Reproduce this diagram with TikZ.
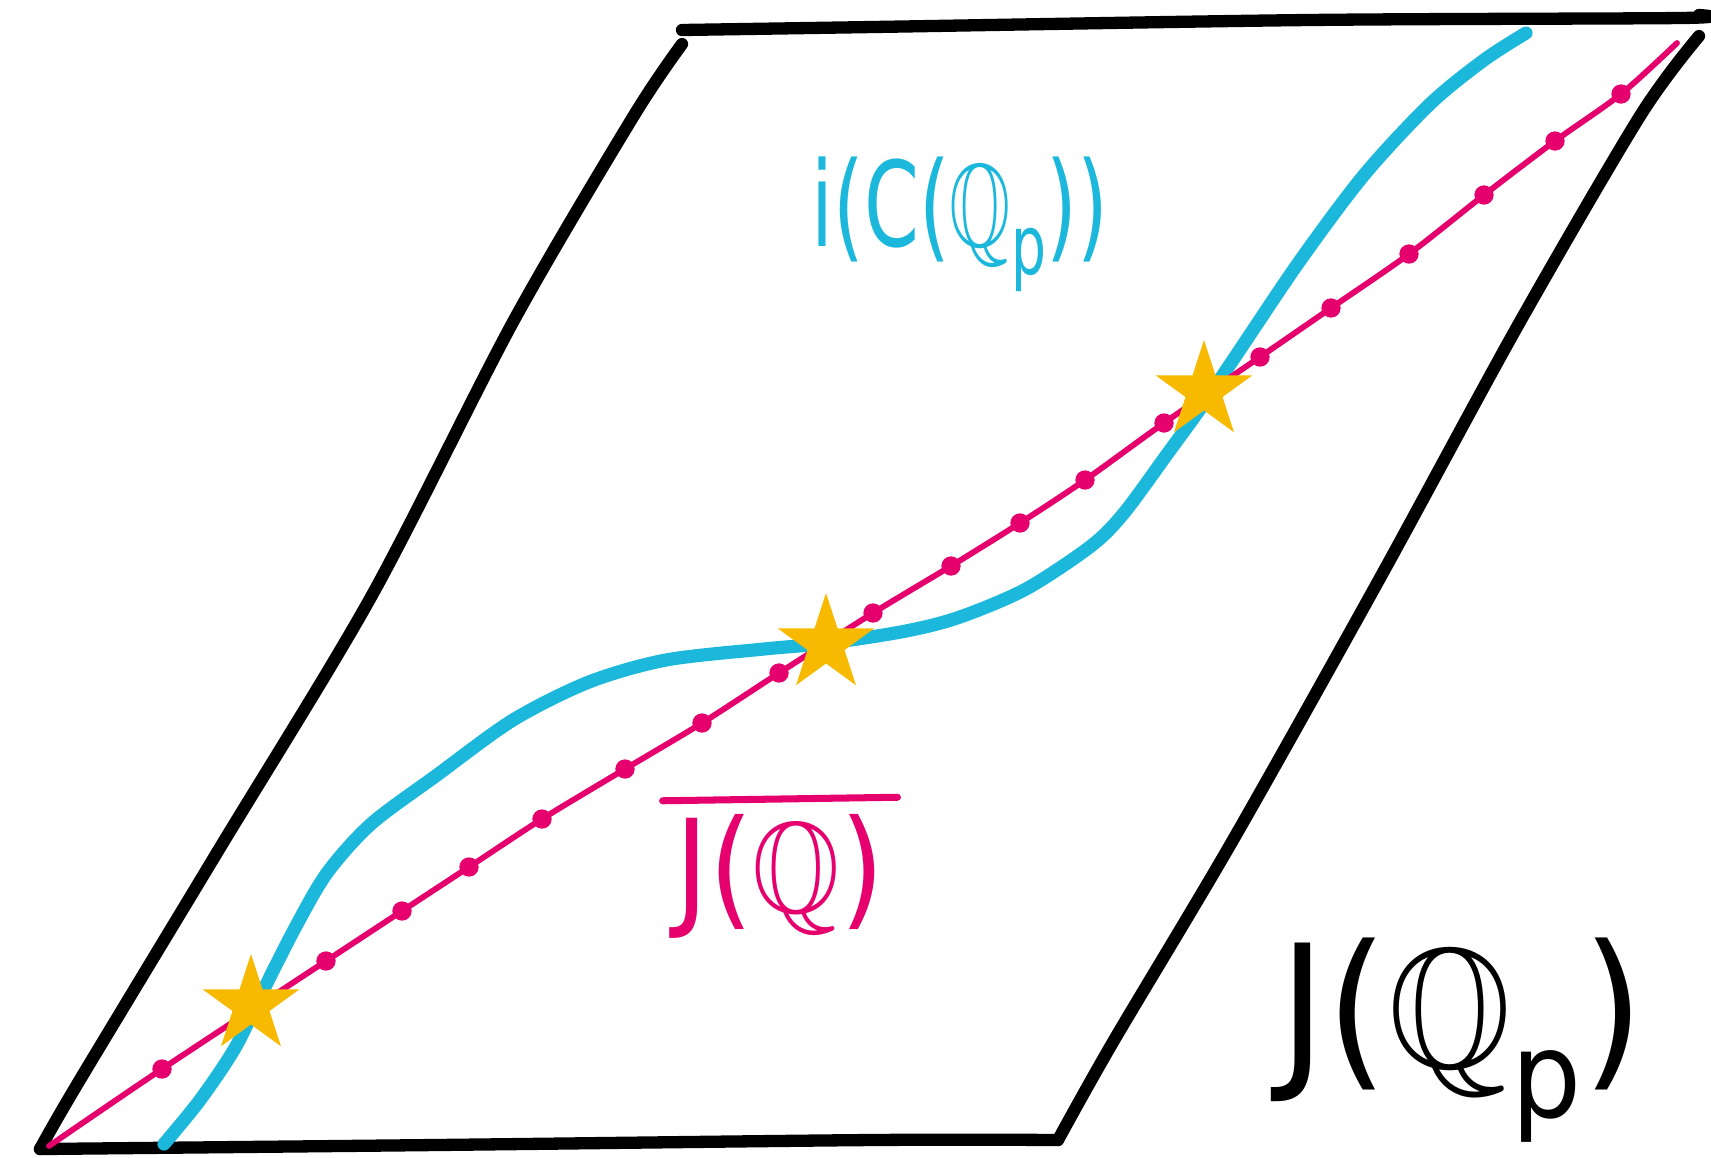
\documentclass[tikz,border=0pt]{standalone}
\usepackage{fontspec}
\usepackage{graphicx}
\usepackage{amssymb}
\setmainfont{DejaVu Sans}
\DeclareFontFamily{U}{msb}{}
\DeclareFontShape{U}{msb}{m}{n}{<-> msbm10}{}
\usetikzlibrary{shapes.geometric}
\definecolor{jcyan}{RGB}{27,184,220}
\definecolor{jmagenta}{RGB}{229,0,110}
\definecolor{jstar}{RGB}{247,186,0}
\begin{document}
\begin{tikzpicture}[x=0.02cm,y=-0.02cm,line cap=round,line join=round]
            %
            % `border' is used for the black parallelogram.
            % `curve' is used for the cyan curve.
            % `jline' is used for the magenta line, `point' for its dots.
            % `starpt' is used for the yellow stars.
            \tikzstyle{border} = [draw=black,line width=7pt]
            \tikzstyle{curve} = [draw=jcyan,line width=7.5pt]
            \tikzstyle{jline} = [draw=jmagenta,line width=3.3pt]
            \tikzstyle{point} = [fill=jmagenta,shape=circle,minimum size=11pt,inner sep=0pt]
            \tikzstyle{starpt} = [fill=jstar,shape=star,star points=5,star point ratio=2.618,minimum size=2.04cm,inner sep=0pt]
            \useasboundingbox (0,0) rectangle (1711,1157);
            %
            % Corners
            \coordinate (bl) at (40,1149);
            \coordinate (tl) at (682,30);
            \coordinate (tr) at (1699,15);
            \coordinate (br) at (1058,1140);
            %
            % Parallelogram
            \draw[border] plot[smooth] coordinates {(bl) (78,1083) (218,851) (371,597) (513,322) (633,117) ([yshift=-8]tl)};
            \draw[border] plot[smooth] coordinates {(tl) (873,27) (1309,20) (1680,18) (tr)};
            \draw[border] plot[smooth] coordinates {([yshift=-12]tr) (1640,116) (1517,327)
                (1380,578) (1233,840) (1113,1042) (br)};
            \draw[border] plot[smooth] coordinates {(bl) (436,1145) (873,1140) (br)};
            %
            % Cyan curve
            \coordinate (cs) at (164,1144);
            \coordinate (ce) at (1526,33);
            \draw[curve] plot[smooth] coordinates {(cs) (200,1100) (235,1048) (262,993) (295,928) (327,873)
                (371,824) (437,775) (513,720) (589,682) (666,660) (764,649) (829,643) (906,631)
                (960,617) (1026,589) (1091,546) (1124,513) (1168,453) (1200,409) (1233,360)
                (1299,262) (1364,175) (1430,104) (1484,60) (ce)};
            %
            % Magenta line and its dots
            \coordinate (ms) at (49,1146);
            \coordinate (me) at (1677,43);
            \node[point] (p1) at (162,1069) {};
            \node[point] (p2) at (326,961) {};
            \node[point] (p3) at (402,911) {};
            \node[point] (p4) at (469,867) {};
            \node[point] (p5) at (542,819) {};
            \node[point] (p6) at (625,769) {};
            \node[point] (p7) at (702,723) {};
            \node[point] (p8) at (779,673) {};
            \node[point] (p9) at (873,613) {};
            \node[point] (p10) at (951,566) {};
            \node[point] (p11) at (1020,523) {};
            \node[point] (p12) at (1085,480) {};
            \node[point] (p13) at (1164,423) {};
            \node[point] (p14) at (1260,357) {};
            \node[point] (p15) at (1331,308) {};
            \node[point] (p16) at (1409,254) {};
            \node[point] (p17) at (1484,195) {};
            \node[point] (p18) at (1555,141) {};
            \node[point] (p19) at (1621,94) {};
            \draw[jline] plot[smooth] coordinates {(ms) (p1.center) (p2.center) (p3.center) (p4.center)
                (p5.center) (p6.center) (p7.center) (p8.center) (p9.center) (p10.center) (p11.center)
                (p12.center) (p13.center) (p14.center) (p15.center) (p16.center) (p17.center)
                (p18.center) (p19.center) (me)};
            %
            % Stars
            \node[starpt] (star1) at (251,1005) {};
            \node[starpt] (star2) at (826,644) {};
            \node[starpt] (star3) at (1204,391) {};
            %
            % Labels
            \node[text=jcyan,font=\fontsize{56}{66}\selectfont] (clabel) at (960,224)
                {\scalebox{0.8}[1.2]{i(C($\mathbb{Q}$\textsubscript{p}))}};
            \node[text=jmagenta,font=\fontsize{64}{76}\selectfont] (jqlabel) at (780,876)
                {\scalebox{1}[1.15]{J($\mathbb{Q}$)}};
            \draw[jmagenta,line width=4pt] ([xshift=-4pt,yshift=4pt]jqlabel.north west) -- ([xshift=4pt,yshift=6pt]jqlabel.north east);
            \node[font=\fontsize{90}{104}\selectfont] (jqplabel) at (1462,1040)
                {\scalebox{1}[1.08]{J($\mathbb{Q}$\textsubscript{p})}};
        \end{tikzpicture}
\end{document}
